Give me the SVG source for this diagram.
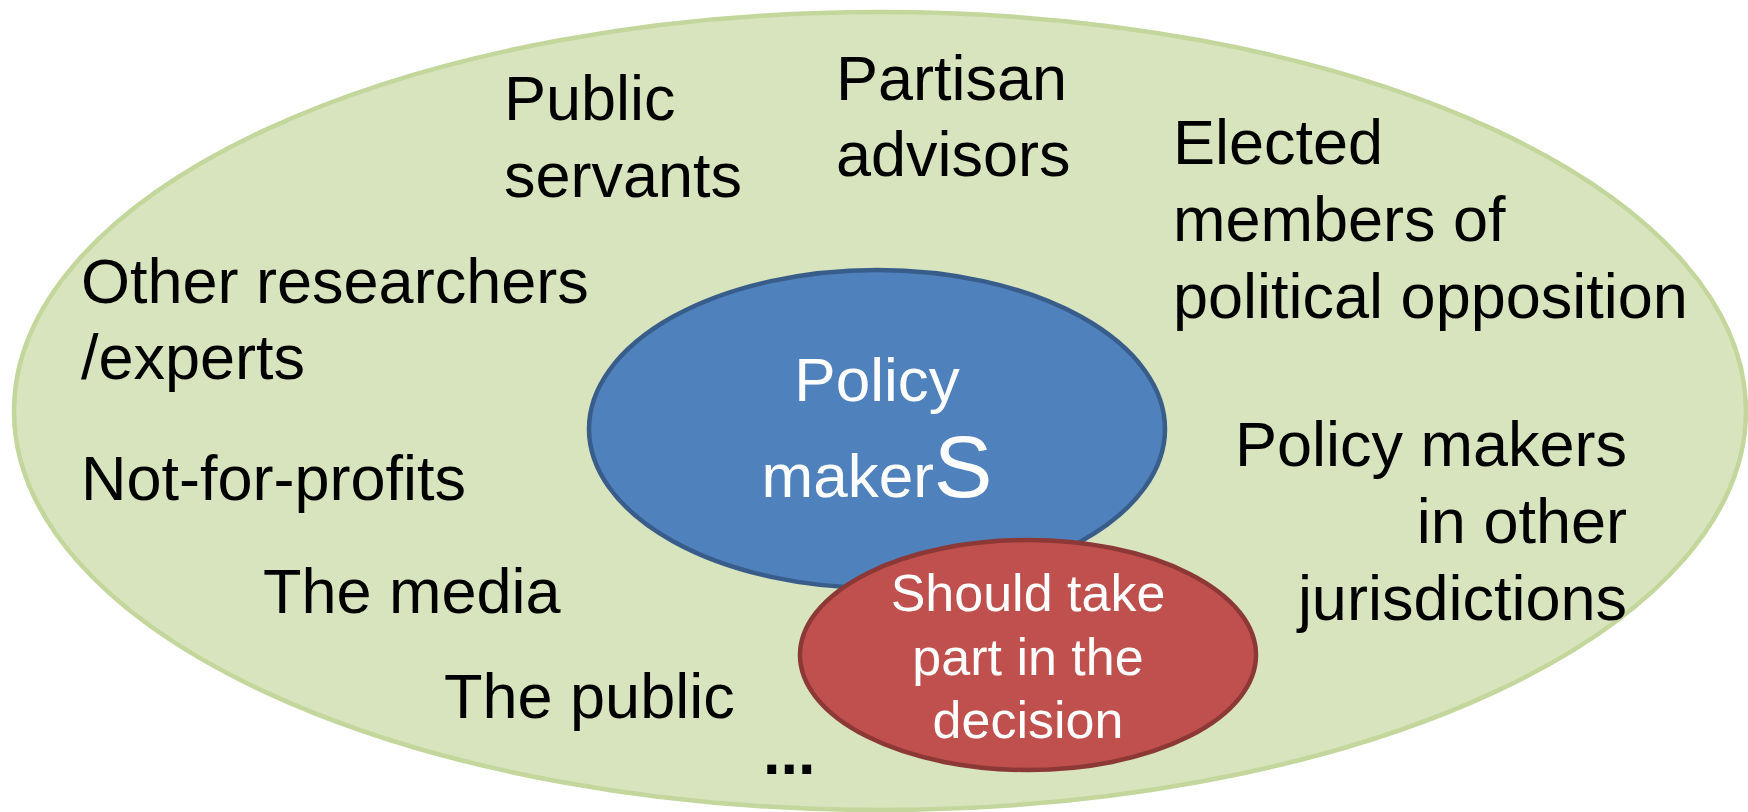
<svg xmlns="http://www.w3.org/2000/svg" width="1748" height="812" viewBox="0 0 1748 812">
<style>
.t{font-family:"Liberation Sans",Arial,sans-serif;font-size:63px;fill:#000}
.w{font-family:"Liberation Sans",Arial,sans-serif;fill:#fff}
</style>
<rect width="1748" height="812" fill="#fff"/>
<g id="outer">
<ellipse cx="880" cy="411" rx="866" ry="399" fill="#d7e4bd" stroke="#c3d69b" stroke-width="4.5"/>
</g>
<g id="labels">
<text class="t" x="504" y="120">Public</text>
<text class="t" x="504" y="197">servants</text>
<text class="t" x="836" y="100">Partisan</text>
<text class="t" x="836" y="176">advisors</text>
<text class="t" x="1173" y="164">Elected</text>
<text class="t" x="1173" y="241">members of</text>
<text class="t" x="1173" y="318">political opposition</text>
<text class="t" x="81" y="303">Other researchers</text>
<text class="t" x="81" y="379">/experts</text>
<text class="t" x="81" y="500">Not-for-profits</text>
<text class="t" x="263" y="613">The media</text>
<text class="t" x="444" y="718">The public</text>
<text class="t" x="1627" y="466" text-anchor="end">Policy makers</text>
<text class="t" x="1627" y="543" text-anchor="end">in other</text>
<text class="t" x="1627" y="620" text-anchor="end">jurisdictions</text>
<text class="t" x="763" y="774" font-weight="bold">...</text>
</g>
<g id="policy-makers">
<ellipse cx="877" cy="429" rx="288" ry="159" fill="#4f81bd" stroke="#385d8a" stroke-width="4.5"/>
<text class="w" x="877" y="401" font-size="62" text-anchor="middle">Policy</text>
<text class="w" x="877" y="497" font-size="62" text-anchor="middle">maker<tspan font-size="88">S</tspan></text>
</g>
<g id="decision">
<ellipse cx="1028" cy="655" rx="228" ry="115" fill="#c0504d" stroke="#8c3836" stroke-width="4.5"/>
<text class="w" x="1028" y="611" font-size="52" text-anchor="middle">Should take</text>
<text class="w" x="1028" y="675" font-size="52" text-anchor="middle">part in the</text>
<text class="w" x="1028" y="738" font-size="52" text-anchor="middle">decision</text>
</g>
<g id="connectors"></g>
</svg>
